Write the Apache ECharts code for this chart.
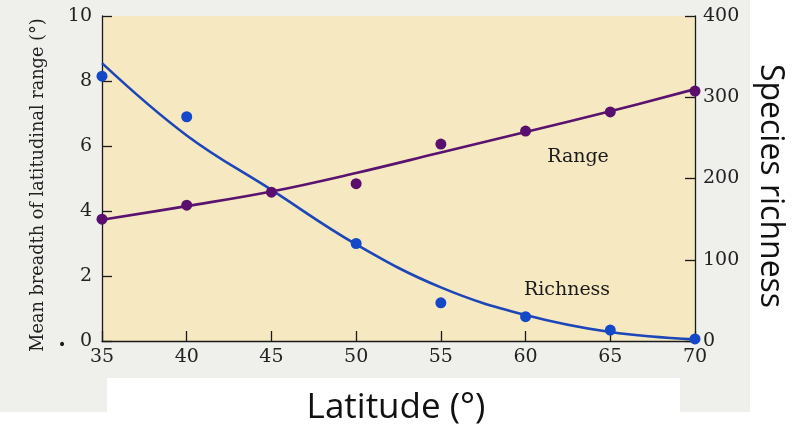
<!DOCTYPE html>
<html>
<head>
<meta charset="utf-8">
<script src="https://cdn.jsdelivr.net/npm/echarts@6/dist/echarts.min.js"></script>
<style>
  html, body { margin: 0; padding: 0; background: #ffffff; }
  #chart { width: 797px; height: 432px; }
</style>
</head>
<body>
<div id="chart"></div>
<script>
// Latitude categories (degrees)
const latitudes = [35, 40, 45, 50, 55, 60, 65, 70];

// Observed mean breadth of latitudinal range (degrees, left axis)
const rangePoints = [3.75, 4.18, 4.58, 4.84, 6.06, 6.46, 7.05, 7.69];
// Fitted trend for range breadth
const rangeFit = [3.73, 4.15, 4.6, 5.17, 5.8, 6.43, 7.07, 7.75];

// Observed species richness (right axis); no visible point at 45
const richnessPoints = [326, 276, null, 120, 47, 30, 13.5, 2.5];
// Fitted trend for species richness
const richnessFit = [342, 253, 186, 119, 66, 32, 11, 2];

const leftTicks = { min: 0, max: 10, interval: 2 };
const rightTicks = { min: 0, max: 400, interval: 100 };

const pair = (xs, ys) => xs.map((x, i) => [x, ys[i]]).filter(p => p[1] !== null);

const serif = '"DejaVu Serif", "Liberation Serif", serif';
const sans = '"Open Sans", "Liberation Sans", sans-serif';

const chart = echarts.init(document.getElementById('chart'), null, { renderer: 'canvas' });

const axisCommon = {
  axisLine: { show: true, lineStyle: { color: '#1a1a1a', width: 1.3 } },
  axisTick: { show: true, inside: true, length: 10, lineStyle: { color: '#1a1a1a', width: 1.3 } },
  splitLine: { show: false },
  axisLabel: { color: '#222', fontFamily: serif, fontSize: 19 }
};

chart.setOption({
  animation: false,
  backgroundColor: 'transparent',
  graphic: [
    { type: 'rect', z: -10, shape: { x: 0, y: 0, width: 750, height: 412 }, style: { fill: '#efefec' } },
    { type: 'rect', z: -9, shape: { x: 107, y: 378, width: 573, height: 54 }, style: { fill: '#ffffff' } },
    { type: 'text', z: 10, x: 62, y: 340, style: { text: '.', font: 'bold 22px ' + serif, fill: '#1a1a1a', align: 'center', verticalAlign: 'middle' } },
    { type: 'text', z: 10, x: 396, y: 408, style: { text: 'Latitude (°)', font: '35px ' + sans, fill: '#111', align: 'center', verticalAlign: 'middle' } },
    { type: 'text', z: 10, x: 770, y: 186, rotation: -Math.PI / 2, style: { text: 'Species richness', font: '32px ' + sans, fill: '#111', align: 'center', verticalAlign: 'middle' } },
    { type: 'text', z: 10, x: 38, y: 185, rotation: Math.PI / 2, style: { text: 'Mean breadth of latitudinal range (°)', font: '17.7px ' + serif, fill: '#222', align: 'center', verticalAlign: 'middle' } },
    { type: 'text', z: 10, x: 578, y: 157, style: { text: 'Range', font: '19px ' + serif, fill: '#1a1a1a', align: 'center', verticalAlign: 'middle' } },
    { type: 'text', z: 10, x: 567, y: 290, style: { text: 'Richness', font: '19px ' + serif, fill: '#1a1a1a', align: 'center', verticalAlign: 'middle' } }
  ],
  grid: {
    left: 102, right: 102, top: 16, bottom: 91,
    show: true, backgroundColor: '#f6e9c1', borderWidth: 0
  },
  xAxis: Object.assign({}, axisCommon, {
    type: 'value', min: 35, max: 70, interval: 5,
    axisLabel: Object.assign({}, axisCommon.axisLabel, { margin: 7 })
  }),
  yAxis: [
    Object.assign({}, axisCommon, {
      type: 'value', position: 'left', min: leftTicks.min, max: leftTicks.max, interval: leftTicks.interval,
      axisLabel: Object.assign({}, axisCommon.axisLabel, { margin: 10 })
    }),
    Object.assign({}, axisCommon, {
      type: 'value', position: 'right', min: rightTicks.min, max: rightTicks.max, interval: rightTicks.interval,
      axisLabel: Object.assign({}, axisCommon.axisLabel, { margin: 8 })
    })
  ],
  series: [
    {
      name: 'Range fit', type: 'line', yAxisIndex: 0, smooth: 0.4, showSymbol: false,
      data: pair(latitudes, rangeFit),
      lineStyle: { color: '#5a1470', width: 2.6 }, z: 3
    },
    {
      name: 'Richness fit', type: 'line', yAxisIndex: 1, smooth: 0.4, showSymbol: false,
      data: pair(latitudes, richnessFit),
      lineStyle: { color: '#1d46b8', width: 2.6 }, z: 3
    },
    {
      name: 'Range', type: 'scatter', yAxisIndex: 0, symbolSize: 11,
      data: pair(latitudes, rangePoints),
      itemStyle: { color: '#5a0f6e', opacity: 1 }, z: 4
    },
    {
      name: 'Richness', type: 'scatter', yAxisIndex: 1, symbolSize: 11,
      data: pair(latitudes, richnessPoints),
      itemStyle: { color: '#1448c8', opacity: 1 }, z: 4
    }
  ]
});
</script>
</body>
</html>
